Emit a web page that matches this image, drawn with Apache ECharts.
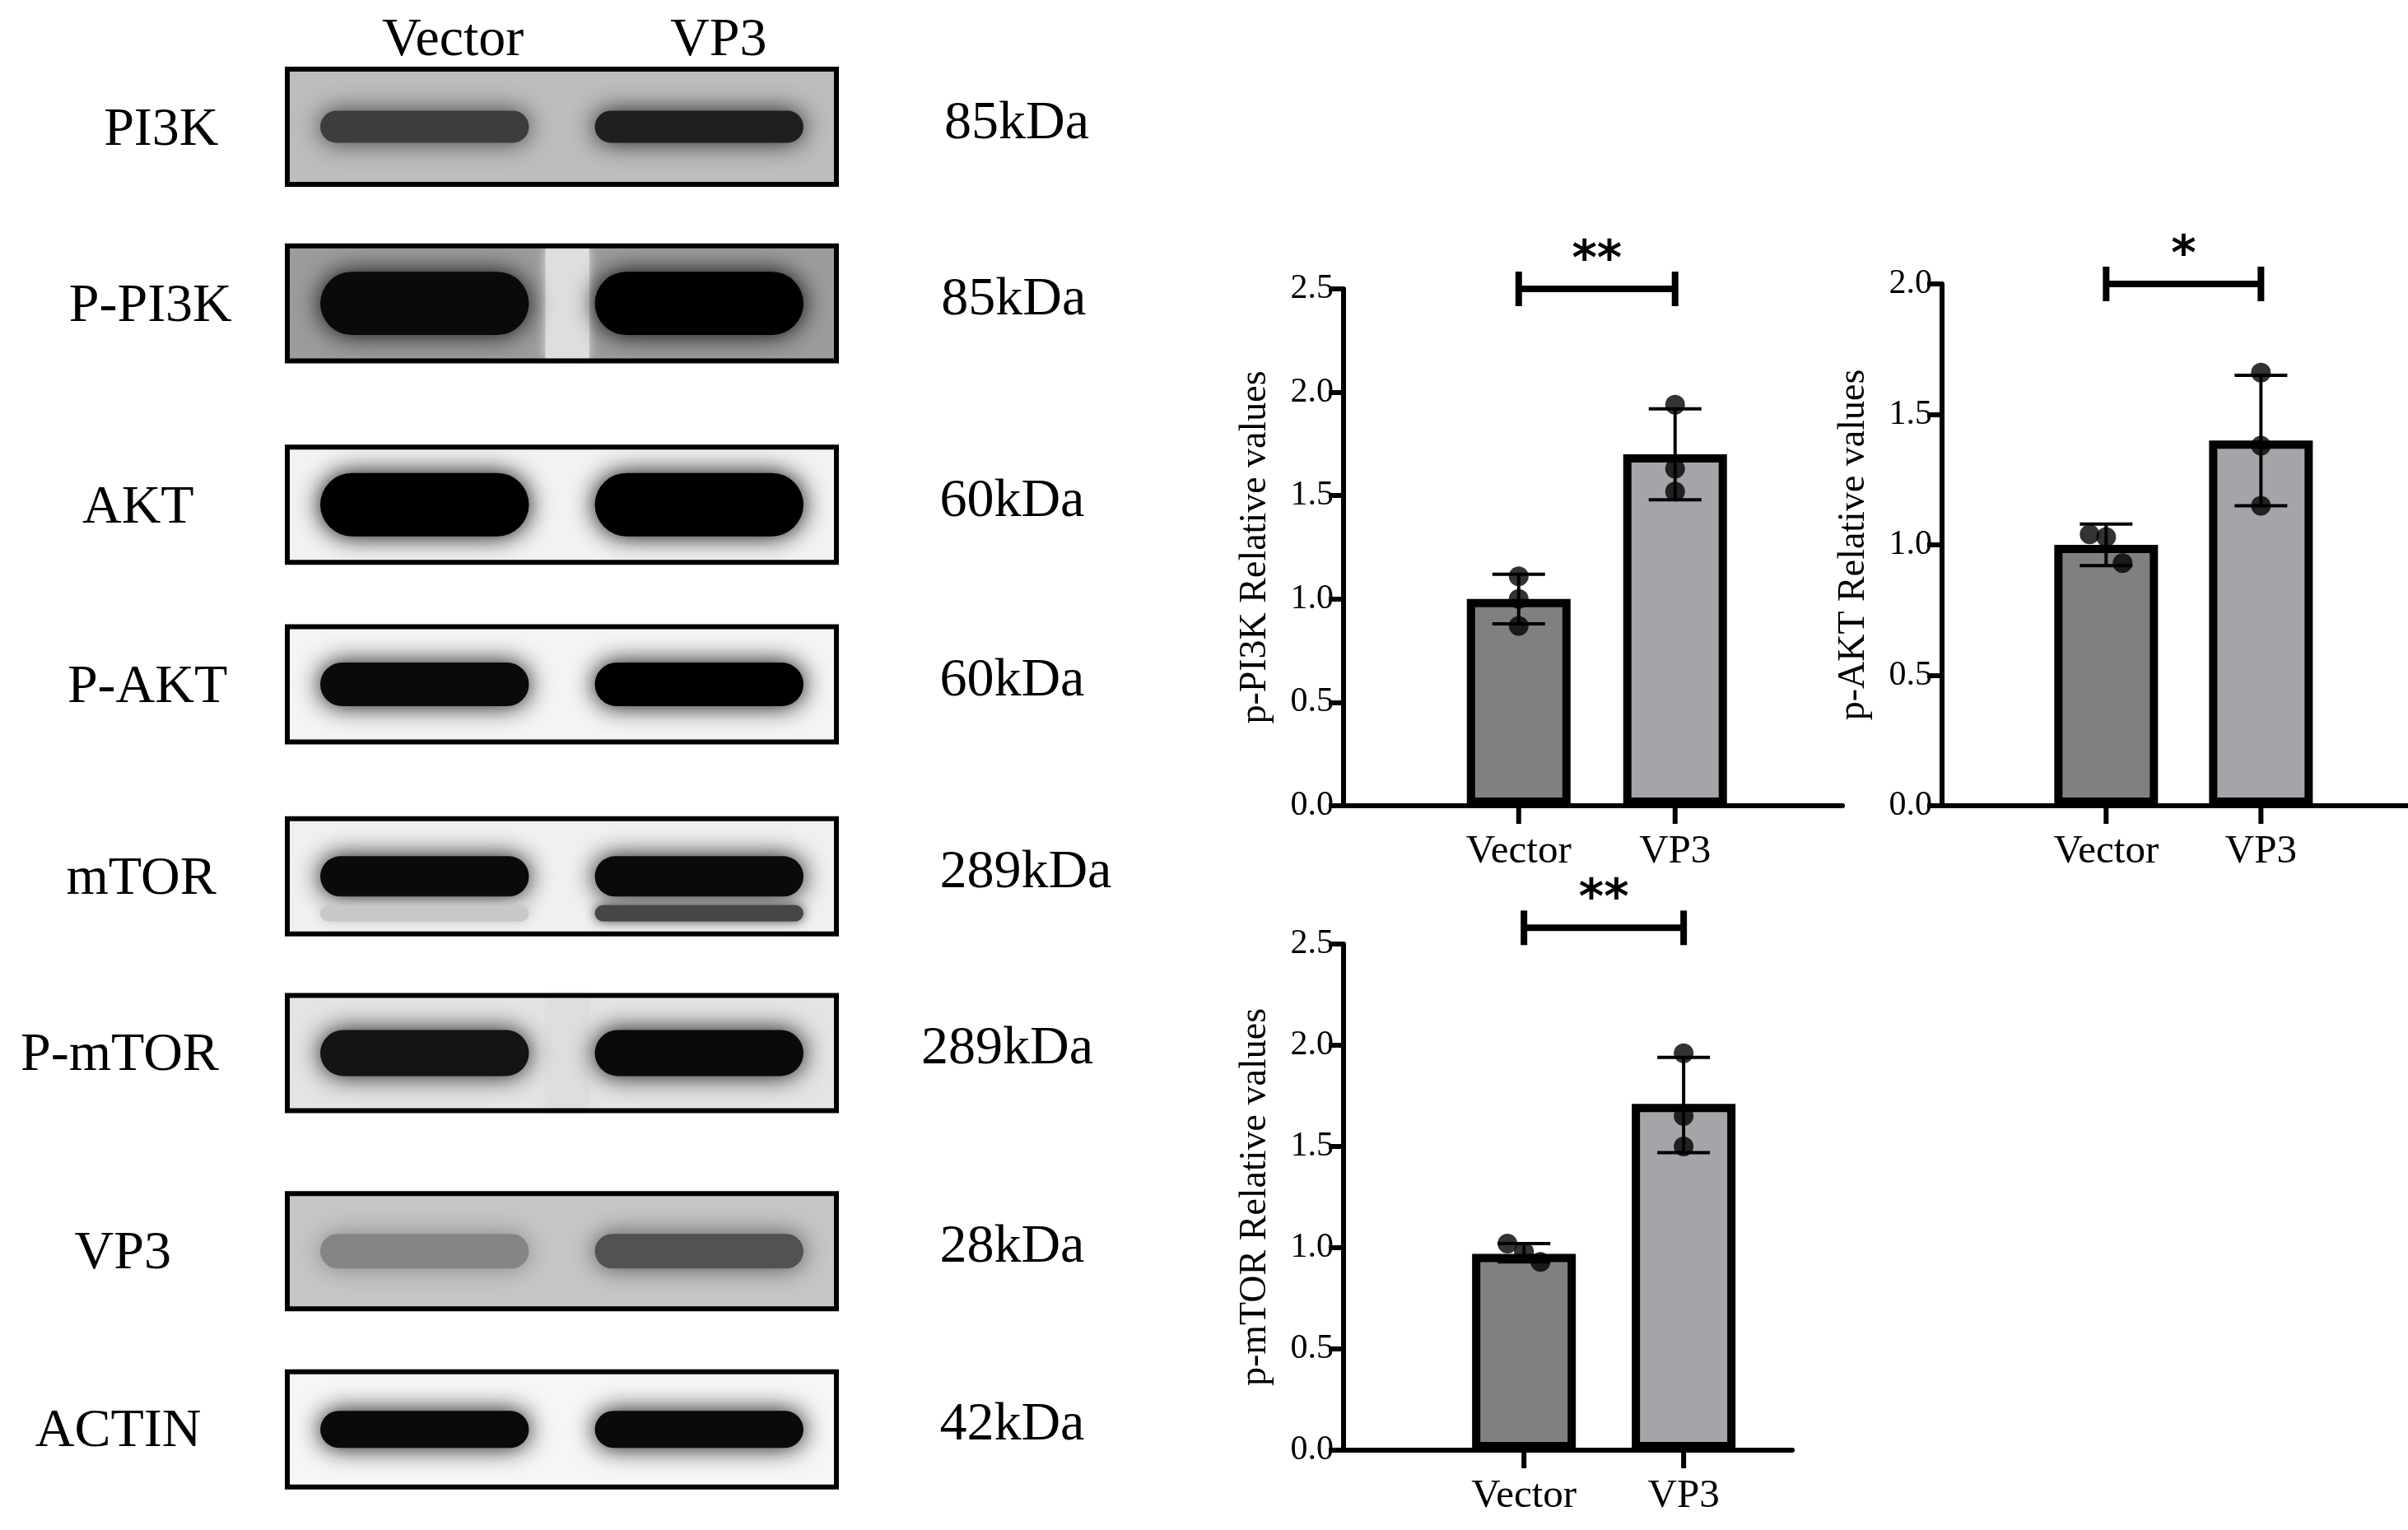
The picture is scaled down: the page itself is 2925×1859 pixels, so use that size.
<!DOCTYPE html>
<html>
<head>
<meta charset="UTF-8">
<script src="https://cdn.jsdelivr.net/npm/echarts@6/dist/echarts.min.js"></script>
<style>
  body { margin: 0; background: #fff; }
  #chart { width: 2925px; height: 1859px; }
</style>
</head>
<body>
<div id="chart"></div>
<script>
// ---- blot data ----
var blotRows = ['PI3K', 'P-PI3K', 'AKT', 'P-AKT', 'mTOR', 'P-mTOR', 'VP3', 'ACTIN'];
var blotKda = ['85kDa', '85kDa', '60kDa', '60kDa', '289kDa', '289kDa', '28kDa', '42kDa'];
var blotLanes = ['Vector', 'VP3'];
// darkness of band per lane (0..1) and band thickness (fraction of box)
var bandVector = [0.7, 0.95, 1.0, 0.95, 0.95, 0.9, 0.35, 0.95];
var bandVP3 = [0.85, 1.0, 1.0, 1.0, 0.95, 0.95, 0.6, 0.95];
var bandThick = [0.28, 0.55, 0.55, 0.38, 0.35, 0.4, 0.3, 0.32];
var blotBg = ['#bdbdbd', '#9c9c9c', '#f2f2f2', '#f4f4f4', '#f0f0f0', '#e4e4e4', '#c6c6c6', '#f6f6f6'];

// ---- quantification data ----
var groups = ['Vector', 'VP3'];
var pi3kMean = [1.0, 1.70];
var pi3kErr = [[0.88, 1.12], [1.48, 1.92]];
var pi3kPts = [[1.11, 1.0, 0.87], [1.94, 1.63, 1.52]];
var aktMean = [1.0, 1.40];
var aktErr = [[0.92, 1.08], [1.15, 1.65]];
var aktPts = [[1.04, 1.03, 0.93], [1.66, 1.38, 1.15]];
var mtorMean = [0.97, 1.71];
var mtorErr = [[0.93, 1.02], [1.47, 1.94]];
var mtorPts = [[1.02, 0.98, 0.93], [1.96, 1.65, 1.50]];

var S = 1.865;
var font = 'Liberation Serif';
var chart = echarts.init(document.getElementById('chart'));

var rowTop = [45, 160, 291, 408, 533, 648, 777, 893];
var labelX = [105, 98, 90, 96, 92, 78, 80, 77];
var kdaX = [615, 613, 612, 612, 612, 600, 612, 612];

function blotRender(params, api) {
  var i = api.value(0);
  var p0 = api.coord([0, rowTop[i]]);
  var p1 = api.coord([1, rowTop[i] + 75]);
  var w = p1[0] - p0[0], h = p1[1] - p0[1];
  var children = [{
    type: 'rect', shape: { x: p0[0], y: p0[1], width: w, height: h },
    style: { fill: blotBg[i] }
  }];
  if (i === 1 || i === 5) {
    children.push({ type: 'rect', shape: { x: p0[0] + w * 0.47, y: p0[1] + 3, width: w * 0.08, height: h - 6 },
      style: { fill: '#dedede', shadowBlur: 12, shadowColor: '#dedede' } });
  }
  [bandVector[i], bandVP3[i]].forEach(function (d, k) {
    var g = Math.round(255 * (1 - d) * 0.8);
    var bh = h * bandThick[i];
    var cx = p0[0] + w * (k === 0 ? 0.25 : 0.75);
    var c = 'rgb(' + g + ',' + g + ',' + g + ')';
    children.push({
      type: 'rect',
      shape: { x: cx - w * 0.19, y: p0[1] + h * 0.5 - bh / 2, width: w * 0.38, height: bh, r: bh / 2 },
      style: { fill: c, shadowBlur: 30, shadowColor: c }
    });
    if (i === 4) {
      var g2 = k === 0 ? 200 : 70;
      var c2 = 'rgb(' + g2 + ',' + g2 + ',' + g2 + ')';
      children.push({
        type: 'rect',
        shape: { x: cx - w * 0.19, y: p0[1] + h * 0.82 - h * 0.07, width: w * 0.38, height: h * 0.14, r: h * 0.07 },
        style: { fill: c2, shadowBlur: 14, shadowColor: c2 }
      });
    }
  });
  children.push({
    type: 'rect', shape: { x: p0[0], y: p0[1], width: w, height: h },
    style: { fill: null, stroke: '#000', lineWidth: 6 }
  });
  return { type: 'group', children: children };
}

function makeAxes(gi, name, max, xmin, xmax) {
  return {
    x: {
      type: 'value', gridIndex: gi, min: xmin, max: xmax,
      axisLine: { show: true, onZero: false, lineStyle: { color: '#000', width: 6 } },
      axisTick: { show: false }, axisLabel: { show: false }, splitLine: { show: false }
    },
    y: {
      type: 'value', gridIndex: gi, min: 0, max: max, interval: 0.5, name: name,
      nameLocation: 'middle', nameGap: 84, nameTextStyle: { color: '#000', fontFamily: font, fontSize: 46 },
      axisLine: { show: true, onZero: false, lineStyle: { color: '#000', width: 6 } },
      axisTick: { show: true, length: 18, lineStyle: { width: 6, color: '#000' } },
      splitLine: { show: false },
      axisLabel: { color: '#000', fontFamily: font, fontSize: 42, margin: 12, formatter: function (v) { return v.toFixed(1); } }
    }
  };
}

function barSeries(gi, mean, err, pts, bracketY, stars) {
  var base = { xAxisIndex: gi, yAxisIndex: gi };
  var bar = Object.assign({
    type: 'bar', barWidth: 126, z: 2,
    data: mean.map(function (v, k) {
      return { value: [k, v], itemStyle: { color: k === 0 ? '#808080' : '#a5a5a9', borderColor: '#000', borderWidth: 10 } };
    })
  }, base);
  var errS = Object.assign({
    type: 'custom', z: 3,
    data: [[0, err[0][0], err[0][1]], [1, err[1][0], err[1][1]]],
    renderItem: function (p, api) {
      var lo = api.coord([api.value(0), api.value(1)]);
      var hi = api.coord([api.value(0), api.value(2)]);
      var hw = 32;
      var st = { stroke: '#000', lineWidth: 4 };
      return { type: 'group', children: [
        { type: 'line', shape: { x1: lo[0], y1: lo[1], x2: hi[0], y2: hi[1] }, style: st },
        { type: 'line', shape: { x1: lo[0] - hw, y1: lo[1], x2: lo[0] + hw, y2: lo[1] }, style: st },
        { type: 'line', shape: { x1: hi[0] - hw, y1: hi[1], x2: hi[0] + hw, y2: hi[1] }, style: st }
      ] };
    }
  }, base);
  var ptData = [];
  pts.forEach(function (arr, k) {
    arr.forEach(function (v, j) {
      var off = 0;
      if (gi > 1 && k === 0) off = (j - 1) * 20;
      ptData.push({ value: [k, v], symbolOffset: [off, 0] });
    });
  });
  var sc = Object.assign({
    type: 'scatter', z: 4, symbolSize: 24, itemStyle: { color: '#000' }, data: ptData
  }, base);
  // category ticks and labels under the x axis
  var cat = Object.assign({
    type: 'custom', z: 5, clip: false,
    data: groups.map(function (g, k) { return [k, 0]; }),
    renderItem: function (p, api) {
      var pt = api.coord([api.value(0), 0]);
      return { type: 'group', children: [
        { type: 'line', shape: { x1: pt[0], y1: pt[1], x2: pt[0], y2: pt[1] + 22 }, style: { stroke: '#000', lineWidth: 6 } },
        { type: 'text', style: { text: groups[p.dataIndex], x: pt[0], y: pt[1] + 32, textAlign: 'center', textVerticalAlign: 'top',
          font: '49px "Liberation Serif"', fill: '#000' } }
      ] };
    }
  }, base);
  var br = Object.assign({
    type: 'custom', z: 5, clip: false,
    data: [[bracketY]],
    renderItem: function (p, api) {
      var a = api.coord([0, api.value(0)]);
      var b = api.coord([1, api.value(0)]);
      var st = { stroke: '#000', lineWidth: 8 };
      return { type: 'group', children: [
        { type: 'line', shape: { x1: a[0], y1: a[1], x2: b[0], y2: b[1] }, style: st },
        { type: 'line', shape: { x1: a[0], y1: a[1] - 21, x2: a[0], y2: a[1] + 21 }, style: st },
        { type: 'line', shape: { x1: b[0], y1: b[1] - 21, x2: b[0], y2: b[1] + 21 }, style: st },
        { type: 'text', style: { text: stars, x: (a[0] + b[0]) / 2, y: a[1] - 4, textAlign: 'center', textVerticalAlign: 'bottom',
          font: 'bold 58px "DejaVu Sans"', fill: '#000' } }
      ] };
    }
  }, base);
  return [bar, errS, sc, cat, br];
}

var a1 = makeAxes(1, 'p-PI3K Relative values', 2.5, -1.12, 2.07);
var a2 = makeAxes(2, 'p-AKT Relative values', 2.0, -1.06, 1.95);
var a3 = makeAxes(3, 'p-mTOR Relative values', 2.5, -1.13, 1.68);

var blotLabels = [];
blotRows.forEach(function (r, i) {
  var cy = (rowTop[i] + 40) * S;
  blotLabels.push({ type: 'text', style: { text: r, x: labelX[i] * S, y: cy, textAlign: 'center', textVerticalAlign: 'middle', font: '66px "Liberation Serif"', fill: '#000' } });
  blotLabels.push({ type: 'text', style: { text: blotKda[i], x: kdaX[i] * S, y: cy - 8, textAlign: 'left', textVerticalAlign: 'middle', font: '66px "Liberation Serif"', fill: '#000' } });
});
blotLanes.forEach(function (l, k) {
  blotLabels.push({ type: 'text', style: { text: l, x: (k === 0 ? 295 : 468) * S, y: 50, textAlign: 'center', textVerticalAlign: 'middle', font: '66px "Liberation Serif"', fill: '#000' } });
});

chart.setOption({
  animation: false,
  grid: [
    { left: 349, width: 667, top: 0, height: 1859 },
    { left: 1632, width: 606, top: 351, height: 628 },
    { left: 2359, width: 602, top: 345, height: 634 },
    { left: 1632, width: 545, top: 1147, height: 615 }
  ],
  xAxis: [{ type: 'value', gridIndex: 0, min: 0, max: 1, show: false }, a1.x, a2.x, a3.x],
  yAxis: [{ type: 'value', gridIndex: 0, min: 0, max: 996, inverse: true, show: false }, a1.y, a2.y, a3.y],
  graphic: blotLabels,
  series: [{ type: 'custom', xAxisIndex: 0, yAxisIndex: 0, data: blotRows.map(function (r, i) { return [i]; }), renderItem: blotRender }]
    .concat(barSeries(1, pi3kMean, pi3kErr, pi3kPts, 2.5, '**'))
    .concat(barSeries(2, aktMean, aktErr, aktPts, 2.0, '*'))
    .concat(barSeries(3, mtorMean, mtorErr, mtorPts, 2.58, '**'))
});
</script>
</body>
</html>
